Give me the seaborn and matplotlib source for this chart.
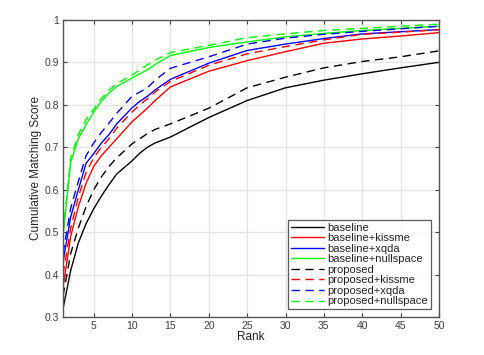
import numpy as np
import pandas as pd
import matplotlib
matplotlib.use("Agg")
import matplotlib.pyplot as plt
import seaborn as sns

ranks = [1, 2, 3, 4, 5, 6, 7, 8, 10, 11, 12, 13, 15, 20, 25, 30, 35, 40, 45, 50]

baseline = [0.32, 0.41, 0.475, 0.52, 0.555, 0.585, 0.612, 0.637, 0.668, 0.686, 0.70, 0.71, 0.724,
            0.77, 0.81, 0.84, 0.858, 0.873, 0.887, 0.90]
baseline_kissme = [0.37, 0.49, 0.56, 0.615, 0.655, 0.68, 0.70, 0.72, 0.76, 0.776, 0.792, 0.81, 0.842,
                   0.879, 0.904, 0.925, 0.945, 0.955, 0.962, 0.97]
baseline_xqda = [0.43, 0.536, 0.60, 0.662, 0.685, 0.71, 0.73, 0.755, 0.793, 0.808, 0.82, 0.835, 0.86,
                 0.898, 0.928, 0.943, 0.956, 0.967, 0.972, 0.977]
baseline_null = [0.49, 0.665, 0.72, 0.753, 0.783, 0.808, 0.828, 0.843, 0.863, 0.873, 0.882, 0.895, 0.916,
                 0.935, 0.948, 0.96, 0.968, 0.975, 0.98, 0.985]
proposed = [0.35, 0.45, 0.51, 0.56, 0.60, 0.63, 0.655, 0.675, 0.708, 0.72, 0.732, 0.742, 0.755,
            0.792, 0.84, 0.865, 0.887, 0.902, 0.913, 0.927]
proposed_kissme = [0.40, 0.51, 0.583, 0.64, 0.675, 0.70, 0.72, 0.745, 0.783, 0.80, 0.814, 0.83, 0.855,
                   0.893, 0.92, 0.937, 0.953, 0.966, 0.971, 0.977]
proposed_xqda = [0.45, 0.557, 0.62, 0.68, 0.71, 0.735, 0.757, 0.78, 0.82, 0.83, 0.84, 0.858, 0.886,
                 0.913, 0.943, 0.957, 0.966, 0.973, 0.979, 0.985]
proposed_null = [0.50, 0.675, 0.73, 0.765, 0.79, 0.815, 0.835, 0.85, 0.87, 0.882, 0.894, 0.905, 0.923,
                 0.94, 0.958, 0.967, 0.975, 0.98, 0.985, 0.99]

names = ["baseline", "baseline+kissme", "baseline+xqda", "baseline+nullspace",
         "proposed", "proposed+kissme", "proposed+xqda", "proposed+nullspace"]
series = [baseline, baseline_kissme, baseline_xqda, baseline_null,
          proposed, proposed_kissme, proposed_xqda, proposed_null]
colors = ["#000000", "#ff0000", "#0000ff", "#00ff00"] * 2
styles = ["-"] * 4 + [(0, (6, 4))] * 4

sns.set_style("whitegrid")
plt.rcParams["font.family"] = ["Liberation Sans", "DejaVu Sans"]

fig = plt.figure(figsize=(4.85, 3.55), dpi=100)
ax = fig.add_axes([0.13, 0.107, 0.775, 0.837])

for name, vals, c, ls in zip(names, series, colors, styles):
    df = pd.DataFrame({"Rank": ranks, "Score": vals})
    sns.lineplot(data=df, x="Rank", y="Score", ax=ax, color=c, linestyle=ls,
                 linewidth=1.0, label=name)

ax.set_xlim(1, 50)
ax.set_ylim(0.3, 1.0)
ax.set_xticks(np.arange(5, 51, 5))
ax.set_yticks(np.arange(0.3, 1.01, 0.1))
ax.set_yticklabels(["0.3", "0.4", "0.5", "0.6", "0.7", "0.8", "0.9", "1"])
ax.set_xlabel("Rank", fontsize=8.5, color="#262626", labelpad=0)
ax.set_ylabel("Cumulative Matching Score", fontsize=8.5, color="#262626", labelpad=2)
ax.tick_params(labelsize=7.5, colors="#404040", direction="in", length=3,
               top=True, right=True, bottom=True, left=True, pad=3)
ax.grid(True, color="#e3e3e3", linewidth=0.9)
for s in ax.spines.values():
    s.set_color("#555555")
    s.set_linewidth(1.0)

leg = ax.legend(loc="lower right", fontsize=8, frameon=True, fancybox=False,
                handlelength=3.0, handletextpad=0.3, labelspacing=0.05,
                borderpad=0.25, borderaxespad=0.7)
leg.get_frame().set_edgecolor("#333333")
leg.get_frame().set_linewidth(0.9)

fig.savefig("out.png", dpi=100)
